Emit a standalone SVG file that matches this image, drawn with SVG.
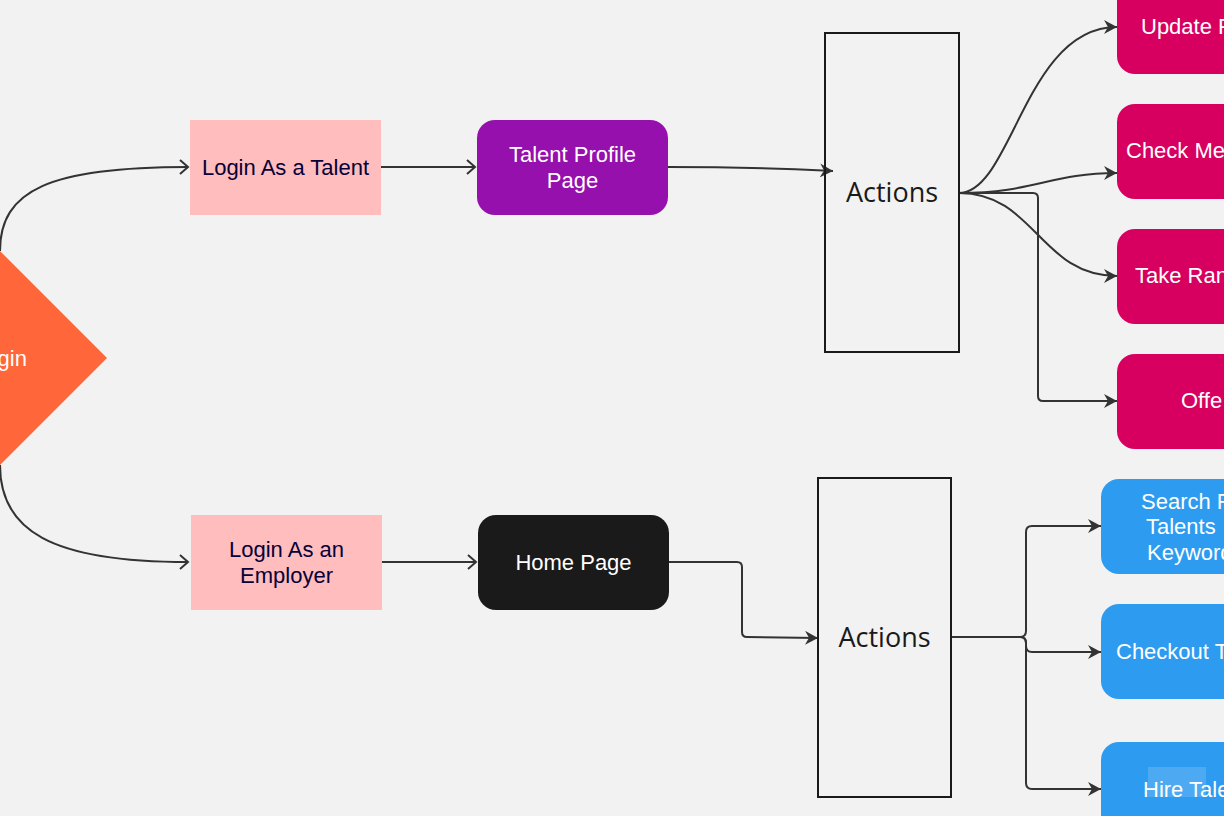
<svg xmlns="http://www.w3.org/2000/svg" width="1224" height="816" viewBox="0 0 1224 816">
<defs>
<style>
.lbl{font-family:"Liberation Sans",Arial,sans-serif;font-size:22px;}
.dark{fill:#050038;}
.wht{fill:#ffffff;}
.act{font-family:"Open Sans","Noto Sans",sans-serif;font-size:27px;fill:#1a1a1a;text-anchor:middle;}
.mid{text-anchor:middle;}
.edge{fill:none;stroke:#333333;stroke-width:2;}
.frame{fill:none;stroke:#1a1a1a;stroke-width:2;}
</style>
<marker id="open" markerWidth="12" markerHeight="16" refX="9" refY="8" orient="auto" markerUnits="userSpaceOnUse">
<path d="M1,1 L9,8 L1,15" fill="none" stroke="#333333" stroke-width="2"/>
</marker>
<marker id="solid" markerWidth="14" markerHeight="14" refX="13" refY="7" orient="auto" markerUnits="userSpaceOnUse">
<path d="M0,0 L13,7 L0,14 L4,7 z" fill="#333333"/>
</marker>
</defs>
<rect x="0" y="0" width="1224" height="816" fill="#f2f2f2"/>

<g id="connectors">
<path class="edge" d="M0,251 C0,190 50,167 188,167" marker-end="url(#open)"/>
<path class="edge" d="M0,465 C0,530 50,562 188,562" marker-end="url(#open)"/>
<path class="edge" d="M381,167 L475,167" marker-end="url(#open)"/>
<path class="edge" d="M382,562 L476,562" marker-end="url(#open)"/>
<path class="edge" d="M668,167 C750,167 790,169 833,171" marker-end="url(#solid)"/>
<path class="edge" d="M669,562 L737,562 Q742,562 742,567 L742,632 Q742,637 747,637 L818,638" marker-end="url(#solid)"/>
<path class="edge" d="M959,193 C1012,193 1025,27 1117,27" marker-end="url(#solid)"/>
<path class="edge" d="M959,193 C1035,193 1050,173 1117,173" marker-end="url(#solid)"/>
<path class="edge" d="M959,193 C1035,193 1040,276 1117,276" marker-end="url(#solid)"/>
<path class="edge" d="M959,193 L1033,193 Q1038,193 1038,198 L1038,396 Q1038,401 1043,401 L1117,401" marker-end="url(#solid)"/>
<path class="edge" d="M951,637 L1020,637 Q1026,637 1026,631 L1026,532 Q1026,526 1032,526 L1101,526" marker-end="url(#solid)"/>
<path class="edge" d="M951,637 L1020,637 Q1026,637 1026,643 L1026,646 Q1026,652 1032,652 L1101,652" marker-end="url(#solid)"/>
<path class="edge" d="M1020,637 Q1026,637 1026,643 L1026,783 Q1026,789 1032,789 L1101,789" marker-end="url(#solid)"/>
</g>

<g id="login">
<polygon points="0,251 107,358 0,465 -107,358" fill="#ff6639"/>
<text class="lbl wht mid" x="0" y="366">Login</text>
</g>

<g id="login-talent">
<rect x="190" y="120" width="191" height="95" fill="#ffbdbd"/>
<text class="lbl dark mid" x="285.5" y="175">Login As a Talent</text>
</g>

<g id="login-employer">
<rect x="191" y="515" width="191" height="95" fill="#ffbdbd"/>
<text class="lbl dark mid" x="286.5" y="557">Login As an</text>
<text class="lbl dark mid" x="286.5" y="583">Employer</text>
</g>

<g id="talent-profile">
<rect x="477" y="120" width="191" height="95" rx="18" fill="#9510ac"/>
<text class="lbl wht mid" x="572.5" y="162">Talent Profile</text>
<text class="lbl wht mid" x="572.5" y="188">Page</text>
</g>

<g id="home-page">
<rect x="478" y="515" width="191" height="95" rx="18" fill="#1a1a1a"/>
<text class="lbl wht mid" x="573.5" y="570">Home Page</text>
</g>

<g id="actions-talent">
<rect class="frame" x="825" y="33" width="134" height="319"/>
<text class="act" x="892" y="202">Actions</text>
</g>

<g id="actions-employer">
<rect class="frame" x="818" y="478" width="133" height="319"/>
<text class="act" x="884.5" y="647">Actions</text>
</g>

<g id="update-profile">
<rect x="1117" y="-21" width="191" height="95" rx="18" fill="#d70060"/>
<text class="lbl wht" x="1141" y="34">Update P</text>
</g>

<g id="check-messages">
<rect x="1117" y="104" width="191" height="95" rx="18" fill="#d70060"/>
<text class="lbl wht" x="1126" y="158">Check Me</text>
</g>

<g id="take-ranking">
<rect x="1117" y="229" width="191" height="95" rx="18" fill="#d70060"/>
<text class="lbl wht" x="1135" y="283">Take Ran</text>
</g>

<g id="offers">
<rect x="1117" y="354" width="191" height="95" rx="18" fill="#d70060"/>
<text class="lbl wht" x="1181" y="408">Offe</text>
</g>

<g id="search-talents">
<rect x="1101" y="479" width="191" height="95" rx="18" fill="#2d9bf0"/>
<text class="lbl wht" x="1141" y="509">Search F</text>
<text class="lbl wht" x="1146" y="534">Talents</text>
<text class="lbl wht" x="1147" y="560">Keyword</text>
</g>

<g id="checkout-talents">
<rect x="1101" y="604" width="191" height="95" rx="18" fill="#2d9bf0"/>
<text class="lbl wht" x="1116" y="659">Checkout T</text>
</g>

<g id="hire-talent">
<rect x="1101" y="742" width="191" height="95" rx="18" fill="#2d9bf0"/>
<rect x="1148" y="767" width="58" height="30" fill="#ffffff" fill-opacity="0.15"/>
<text class="lbl wht" x="1143" y="797">Hire Tale</text>
</g>
</svg>
